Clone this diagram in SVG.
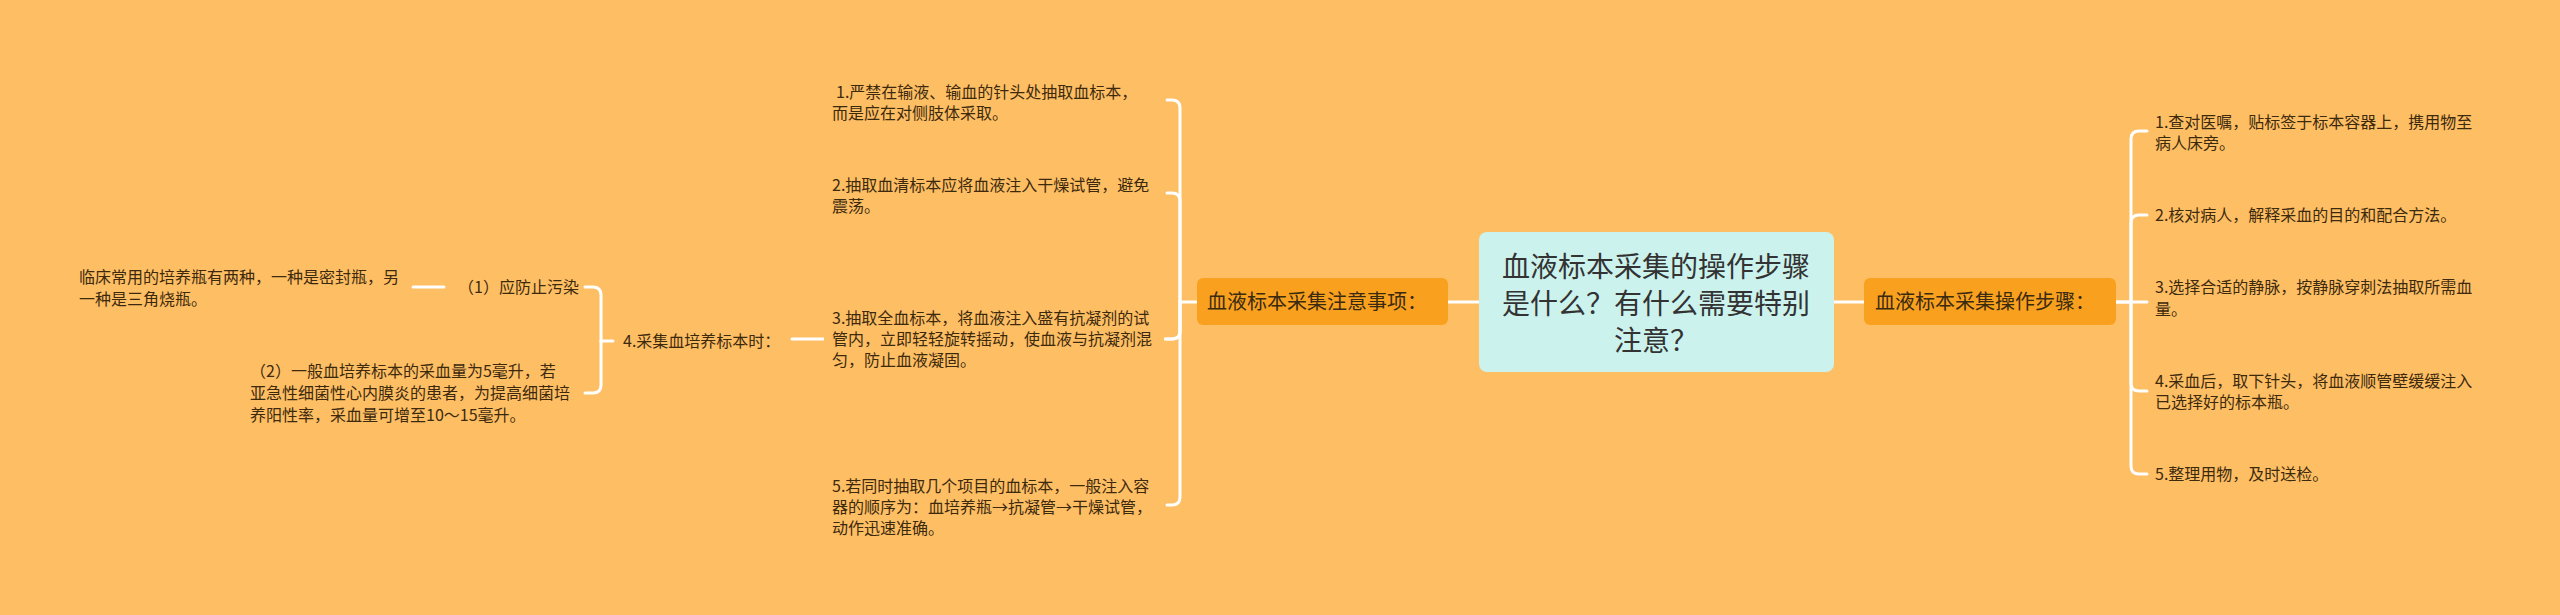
<svg xmlns="http://www.w3.org/2000/svg" width="2560" height="615" viewBox="0 0 2560 615">
<style>
text{font-family:"Noto Sans CJK SC","Noto Sans",sans-serif;}
.it{font-size:16px;fill:#3d2a0e;}
.br{font-size:20px;fill:#3a2a10;}
.ct{font-size:28px;fill:#333333;text-anchor:middle;}
.ln{fill:none;stroke:#ffffff;stroke-width:3;stroke-linecap:round;}
</style>
<rect width="2560" height="615" fill="#FDBE64"/>
<g id="connectors">
  <path class="ln" d="M1479 302 H1448"/>
  <path class="ln" d="M1834 302 H1864"/>
  <!-- right bracket -->
  <path class="ln" d="M2116 302 H2131 V139 Q2131 131 2139 131 H2147"/>
  <path class="ln" d="M2131 302 V223 Q2131 215 2139 215 H2147"/>
  <path class="ln" d="M2116 302 H2147"/>
  <path class="ln" d="M2131 302 V383 Q2131 391 2139 391 H2147"/>
  <path class="ln" d="M2131 302 V466 Q2131 474 2139 474 H2147"/>
  <!-- left bracket -->
  <path class="ln" d="M1197 302 H1180 V108 Q1180 100 1172 100 H1167"/>
  <path class="ln" d="M1180 302 V201 Q1180 193 1172 193 H1167"/>
  <path class="ln" d="M1180 302 V331 Q1180 339 1172 339 H1167"/>
  <path class="ln" d="M1180 302 V497 Q1180 505 1172 505 H1167"/>
  <path class="ln" d="M1180 302 V331 Q1180 339 1172 339 H792"/>
  <!-- item 4 bracket -->
  <path class="ln" d="M613 341 H601 V295 Q601 287 593 287 H585"/>
  <path class="ln" d="M601 341 V385 Q601 393 593 393 H585"/>
  <path class="ln" d="M444 287 H413"/>
</g>
<g id="center">
  <rect x="1479" y="232" width="355" height="140" rx="8" fill="#CCF2EE"/>
  <text class="ct" x="1656" y="277">血液标本采集的操作步骤</text>
  <text class="ct" x="1656" y="314">是什么？有什么需要特别</text>
  <text class="ct" x="1656" y="351">注意？</text>
</g>
<g id="branch-left">
  <rect x="1197" y="278" width="251" height="47" rx="6" fill="#F9A11E"/>
  <text class="br" x="1207" y="309">血液标本采集注意事项：</text>
</g>
<g id="branch-right">
  <rect x="1864" y="278" width="252" height="47" rx="6" fill="#F9A11E"/>
  <text class="br" x="1875" y="309">血液标本采集操作步骤：</text>
</g>
<g id="r1"><text class="it" x="2155" y="128">1.查对医嘱，贴标签于标本容器上，携用物至</text><text class="it" x="2155" y="149">病人床旁。</text></g>
<g id="r2"><text class="it" x="2155" y="221">2.核对病人，解释采血的目的和配合方法。</text></g>
<g id="r3"><text class="it" x="2155" y="293">3.选择合适的静脉，按静脉穿刺法抽取所需血</text><text class="it" x="2155" y="315">量。</text></g>
<g id="r4"><text class="it" x="2155" y="387">4.采血后，取下针头，将血液顺管壁缓缓注入</text><text class="it" x="2155" y="408">已选择好的标本瓶。</text></g>
<g id="r5"><text class="it" x="2155" y="480">5.整理用物，及时送检。</text></g>
<g id="l1"><text class="it" x="836" y="98">1.严禁在输液、输血的针头处抽取血标本，</text><text class="it" x="832" y="119">而是应在对侧肢体采取。</text></g>
<g id="l2"><text class="it" x="832" y="191">2.抽取血清标本应将血液注入干燥试管，避免</text><text class="it" x="832" y="212">震荡。</text></g>
<g id="l3"><rect x="824" y="304" width="340" height="66" fill="#FDBE64"/><text class="it" x="832" y="324">3.抽取全血标本，将血液注入盛有抗凝剂的试</text><text class="it" x="832" y="345">管内，立即轻轻旋转摇动，使血液与抗凝剂混</text><text class="it" x="832" y="366">匀，防止血液凝固。</text></g>
<g id="l5"><text class="it" x="832" y="492">5.若同时抽取几个项目的血标本，一般注入容</text><text class="it" x="832" y="513">器的顺序为：血培养瓶→抗凝管→干燥试管，</text><text class="it" x="832" y="534">动作迅速准确。</text></g>
<g id="l4"><text class="it" x="623" y="347">4.采集血培养标本时：</text></g>
<g id="l4a"><text class="it" x="458" y="293">（1）应防止污染</text></g>
<g id="l4b"><text class="it" x="250" y="377">（2）一般血培养标本的采血量为5毫升，若</text><text class="it" x="250" y="399">亚急性细菌性心内膜炎的患者，为提高细菌培</text><text class="it" x="250" y="421">养阳性率，采血量可增至10～15毫升。</text></g>
<g id="l4a1"><text class="it" x="79" y="283">临床常用的培养瓶有两种，一种是密封瓶，另</text><text class="it" x="79" y="305">一种是三角烧瓶。</text></g>
</svg>
